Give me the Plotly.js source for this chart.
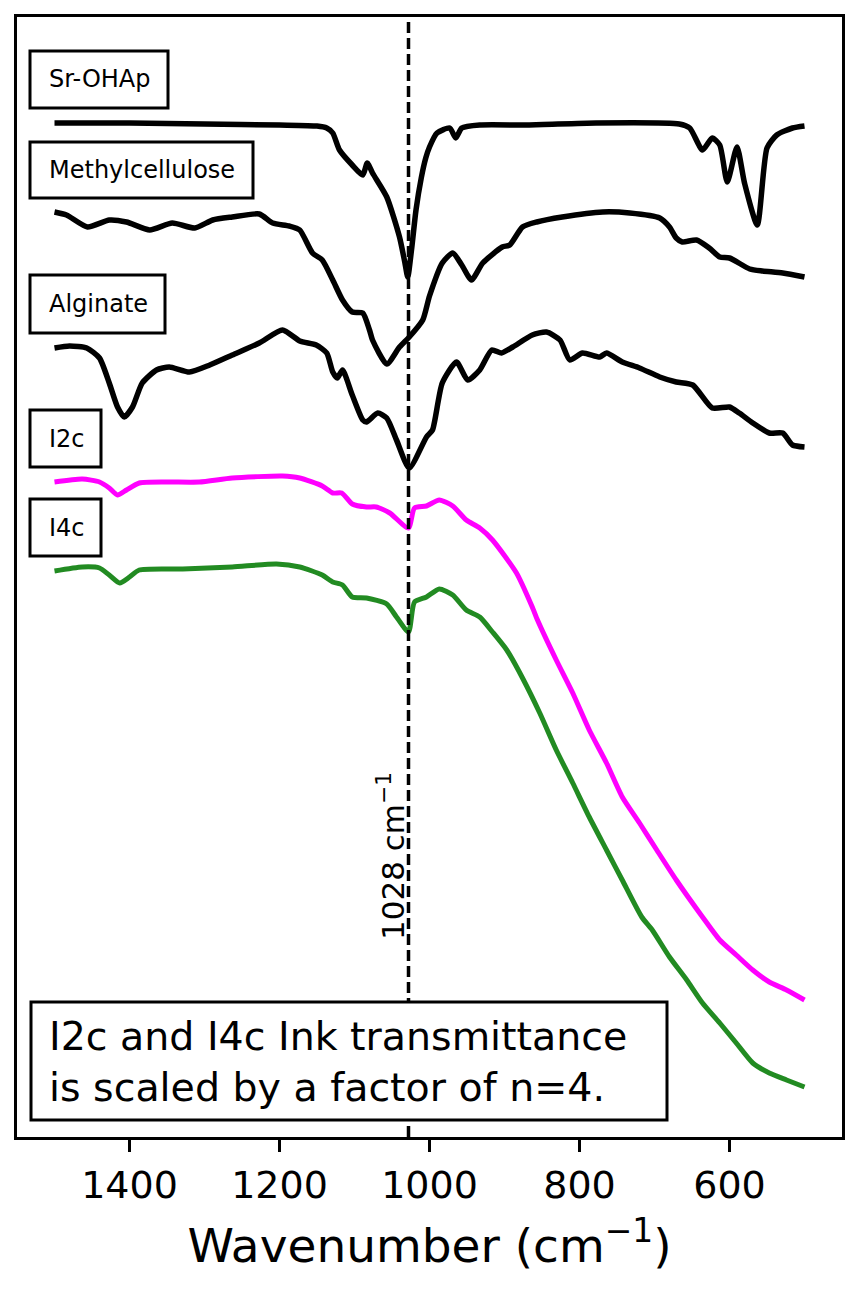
<!DOCTYPE html>
<html>
<head>
<meta charset="utf-8">
<script src="https://cdn.plot.ly/plotly-3.0.1.min.js"></script>
<style>
  html, body { margin: 0; padding: 0; background: #ffffff; }
  #chart { width: 859px; height: 1289px; }
</style>
</head>
<body>
<div id="chart"></div>
<script>
// Wavenumbers (cm^-1) and offset transmittance (a.u.)
const srWn = [1500,1400,1300,1200,1150,1137,1129,1120,1103,1089,1083,1076,1057,1040,1033,1029,1024,1018,1011,1005,1000,990,973,965,957,933,867,778,667,653,636,623,613,603,590,580,563,550,537,516,500];
const srT  = [101.4,101.4,101.3,101.2,101.1,100.9,100.4,98.7,97.2,96.2,97.4,96.4,94.0,90.0,87.5,86.0,88.7,92.7,95.9,97.9,99.0,100.4,100.9,99.9,100.9,101.2,101.2,101.4,101.3,100.9,98.7,99.9,99.2,95.5,99.0,95.4,91.2,98.9,100.2,100.9,101.1];

const mcWn = [1500,1484,1456,1427,1404,1373,1343,1313,1289,1263,1227,1209,1187,1173,1156,1143,1129,1116,1103,1089,1080,1076,1057,1040,1027,1009,1000,983,969,957,944,929,903,893,876,857,823,769,733,693,680,671,663,644,627,613,600,573,556,529,500];
const mcT  = [92.5,92.2,91.0,91.7,91.5,90.7,91.4,90.9,91.7,92.0,92.3,91.4,91.1,90.7,88.4,87.7,85.7,83.7,82.5,82.4,80.7,79.7,77.3,79.0,80.0,81.7,84.1,87.4,88.4,87.2,85.7,87.4,89.0,89.2,91.0,91.5,92.0,92.5,92.4,91.9,91.0,89.9,89.5,89.7,88.9,88.0,87.9,86.8,86.6,86.4,86.0];

const alWn = [1500,1480,1457,1440,1427,1416,1407,1396,1383,1364,1347,1320,1293,1263,1227,1196,1173,1151,1137,1129,1123,1116,1103,1089,1084,1069,1057,1044,1027,1004,996,983,964,949,933,917,904,889,863,844,826,813,796,773,764,743,720,693,671,649,623,600,587,569,547,529,516,500];
const alT  = [78.9,79.1,78.9,77.9,75.4,73.0,72.0,73.0,75.4,76.7,77.0,76.5,77.2,78.2,79.4,80.7,79.6,79.2,78.4,76.5,75.9,76.7,74.2,71.7,71.5,72.4,71.9,69.7,66.9,70.0,70.7,75.4,77.5,75.7,76.7,78.7,78.4,79.0,80.2,80.5,79.7,77.7,78.4,78.0,78.4,77.5,76.9,76.0,75.5,75.2,72.9,73.0,72.4,71.4,70.4,70.4,69.2,69.0];

const i2Wn = [1500,1463,1440,1427,1416,1404,1387,1351,1307,1263,1196,1173,1143,1129,1117,1103,1084,1071,1053,1028,1020,1004,987,969,951,933,916,884,863,856,831,809,787,764,743,720,697,671,636,613,591,569,547,524,500];
const i2T  = [65.5,65.8,65.5,64.9,64.2,64.7,65.4,65.5,65.5,65.9,66.1,65.9,65.1,64.4,64.4,63.3,63.0,63.0,62.4,60.9,62.9,63.1,63.7,63.1,61.7,60.9,59.7,56.4,53.0,51.7,47.7,44.4,40.7,37.4,34.0,31.4,28.7,25.7,22.0,19.7,18.2,16.7,15.5,14.7,13.7];

const i4Wn = [1500,1463,1440,1427,1413,1400,1387,1329,1263,1204,1173,1143,1129,1116,1103,1084,1057,1044,1028,1020,1004,987,969,951,933,916,897,876,853,831,809,787,764,743,717,703,680,657,636,613,591,569,547,524,500];
const i4T  = [56.6,57.0,56.9,56.2,55.4,56.0,56.7,56.8,57.0,57.3,57.0,56.2,55.5,55.2,54.0,53.9,53.3,52.0,50.5,53.5,54.0,54.8,54.2,52.7,52.0,50.5,48.7,45.9,42.4,38.7,35.4,32.0,28.7,25.7,22.0,20.7,18.0,15.7,13.4,11.4,9.4,7.4,6.4,5.7,5.0];

const seriesNames = ["Sr-OHAp","Methylcellulose","Alginate","I2c","I4c"];
const markerLine = 1028;
const xTicks = [1400,1200,1000,800,600];
const noteText = "I2c and I4c Ink transmittance<br>is scaled by a factor of n=4.";

const FONT = "DejaVu Sans, Verdana, sans-serif";

const traces = [
  {x: srWn, y: srT, name: seriesNames[0], color: "#000000", w: 5.5},
  {x: mcWn, y: mcT, name: seriesNames[1], color: "#000000", w: 5.5},
  {x: alWn, y: alT, name: seriesNames[2], color: "#000000", w: 5.5},
  {x: i2Wn, y: i2T, name: seriesNames[3], color: "#ff00ff", w: 5},
  {x: i4Wn, y: i4T, name: seriesNames[4], color: "#228b22", w: 5}
].map(s => ({
  type: "scatter", mode: "lines", x: s.x, y: s.y, name: s.name,
  line: {color: s.color, width: s.w, shape: "spline", smoothing: 0.6}, hoverinfo: "x+y+name"
}));

// plot area in pixels: x 17..842, y 17..1137
const PL = 17, PR = 842, PT = 17, PB = 1137;
const px = v => (v - PL) / (PR - PL);
const py = v => (PB - v) / (PB - PT);

const labelBoxes = [
  {x0: 30, x1: 168, y0: 51,  y1: 108},
  {x0: 30, x1: 253, y0: 142, y1: 198},
  {x0: 30, x1: 165, y0: 275, y1: 333},
  {x0: 30, x1: 101, y0: 410, y1: 467},
  {x0: 30, x1: 101, y0: 499, y1: 556}
];

const shapes = [
  {type: "line", xref: "x", yref: "paper", x0: markerLine, x1: markerLine, y0: 0, y1: 1,
   line: {color: "#000000", width: 3.5, dash: "11px,5px"}, layer: "above"},
  {type: "rect", xref: "paper", yref: "paper", x0: px(31), x1: px(667), y0: py(1120), y1: py(1002),
   line: {color: "#000000", width: 3}, fillcolor: "#ffffff", layer: "above"}
].concat(labelBoxes.map(b => ({
  type: "rect", xref: "paper", yref: "paper", x0: px(b.x0), x1: px(b.x1), y0: py(b.y1), y1: py(b.y0),
  line: {color: "#000000", width: 3}, fillcolor: "#ffffff", layer: "above"
})));

const annotations = labelBoxes.map((b, i) => ({
  xref: "paper", yref: "paper", x: px(47), y: py((b.y0 + b.y1) / 2),
  xanchor: "left", yanchor: "middle", showarrow: false,
  text: seriesNames[i], font: {family: FONT, size: 24, color: "#000000"}
})).concat([
  {xref: "paper", yref: "paper", x: px(47), y: py(1061), xanchor: "left", yanchor: "middle",
   showarrow: false, align: "left", text: noteText,
   font: {family: FONT, size: 39.5, color: "#000000"}},
  {xref: "paper", yref: "paper", x: px(391), y: py(856), xanchor: "center", yanchor: "middle",
   showarrow: false, textangle: -90, text: markerLine + " cm<sup>−1</sup>",
   font: {family: FONT, size: 31, color: "#000000"}}
]);

const layout = {
  width: 859, height: 1289,
  margin: {l: PL, r: 859 - PR, t: PT, b: 1289 - PB, pad: 0},
  paper_bgcolor: "#ffffff", plot_bgcolor: "#ffffff",
  showlegend: false,
  font: {family: FONT, color: "#000000"},
  xaxis: {
    range: [1550, 450], tickvals: xTicks, ticktext: xTicks.map(String),
    ticks: "outside", ticklen: 12, tickwidth: 3, tickcolor: "#000000",
    showline: true, mirror: true, linewidth: 3, linecolor: "#000000",
    showgrid: false, zeroline: false, automargin: false,
    tickfont: {family: FONT, size: 38, color: "#000000"},
    title: {text: "Wavenumber (cm<sup>−1</sup>)", font: {family: FONT, size: 47, color: "#000000"}, standoff: 24}
  },
  yaxis: {
    range: [0, 112], showticklabels: false, ticks: "",
    showline: true, mirror: true, linewidth: 3, linecolor: "#000000",
    showgrid: false, zeroline: false, automargin: false
  },
  shapes: shapes,
  annotations: annotations
};

Plotly.newPlot("chart", traces, layout, {displayModeBar: false, staticPlot: true});
</script>
</body>
</html>
